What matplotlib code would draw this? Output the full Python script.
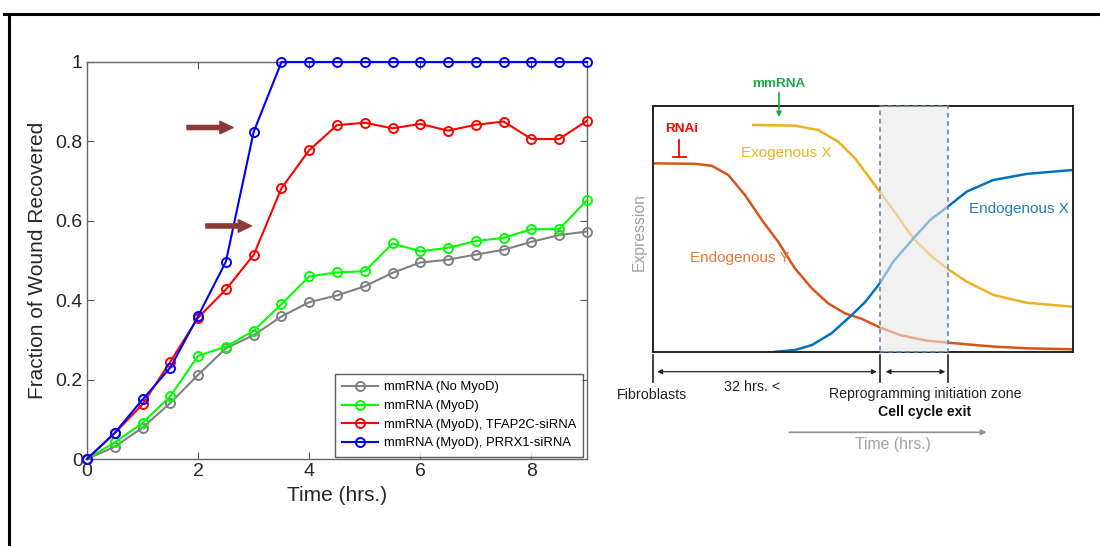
import matplotlib.pyplot as plt
from matplotlib.lines import Line2D
from matplotlib.patches import Rectangle

plt.rcParams['font.family'] = ['Liberation Sans', 'DejaVu Sans']

# ---- left panel: wound recovery ----
hours = [0, 0.5, 1, 1.5, 2, 2.5, 3, 3.5, 4, 4.5, 5, 5.5, 6, 6.5, 7, 7.5, 8, 8.5, 9]
no_myod = [0, 0.031, 0.079, 0.141, 0.212, 0.279, 0.312, 0.359, 0.395, 0.412, 0.435,
           0.469, 0.495, 0.502, 0.515, 0.527, 0.547, 0.564, 0.573]
myod = [0, 0.042, 0.091, 0.158, 0.260, 0.283, 0.323, 0.390, 0.460, 0.470, 0.473,
        0.543, 0.523, 0.532, 0.549, 0.557, 0.579, 0.579, 0.652]
tfap2c = [0, 0.065, 0.138, 0.245, 0.356, 0.427, 0.514, 0.682, 0.778, 0.841, 0.847,
          0.833, 0.844, 0.827, 0.842, 0.850, 0.806, 0.806, 0.852]
prrx1 = [0, 0.066, 0.150, 0.230, 0.360, 0.497, 0.824, 1, 1, 1, 1, 1, 1, 1, 1, 1, 1, 1, 1]
series_labels = ['mmRNA (No MyoD)', 'mmRNA (MyoD)', 'mmRNA (MyoD), TFAP2C-siRNA',
                 'mmRNA (MyoD), PRRX1-siRNA']
series_colors = ['#808080', '#00ff00', '#ff0000', '#0000ff']
# brown arrows: (x start, x end, y)
brown_arrows = [(1.80, 2.63, 0.835), (2.14, 2.96, 0.587)]

# ---- right panel: schematic (0-100 units) ----
endo_y_t = [0, 10.0, 14.0, 17.9, 21.9, 25.9, 29.8, 33.8, 37.8, 41.7, 45.7, 49.8, 54.0,
            58.8, 65.2, 70.2, 81.0, 89.0, 100]
endo_y_v = [76.7, 76.5, 75.7, 72.0, 63.8, 53.7, 44.8, 34.0, 25.9, 19.8, 15.7, 13.4, 10.0,
            6.9, 4.6, 3.8, 2.2, 1.5, 1.1]
exo_x_t = [23.6, 33.8, 39.4, 44.1, 48.1, 50.5, 54.0, 57.2, 62.0, 66.0, 70.2, 74.7, 81.0,
           89.0, 100]
exo_x_v = [92.3, 92.0, 90.2, 85.5, 78.7, 73.2, 65.2, 57.7, 46.2, 39.4, 33.7, 28.6, 23.2,
           20.0, 18.4]
endo_x_t = [28.6, 33.8, 37.8, 42.5, 47.3, 50.5, 54.0, 57.2, 62.0, 66.0, 70.2, 74.7, 81.0,
            89.0, 100]
endo_x_v = [0, 0.8, 2.8, 7.6, 15.0, 20.3, 27.9, 36.7, 46.2, 53.7, 59.1, 65.2, 69.9,
            72.4, 74.0]
zone = (54.0, 70.2)

fig = plt.figure(figsize=(11, 5.46), dpi=100)

# outer frame (top and left only)
fig.add_artist(Line2D([4 / 1100, 1], [1 - 14 / 546] * 2, color='black', lw=2.2))
fig.add_artist(Line2D([8.5 / 1100] * 2, [0, 1 - 14 / 546], color='black', lw=2.2))

ax = fig.add_axes([87 / 1100, 87 / 546, 500 / 1100, 397 / 546])
for vals, lab, col in zip([no_myod, myod, tfap2c, prrx1], series_labels, series_colors):
    ax.plot(hours, vals, color=col, lw=1.5, marker='o', ms=6.5, mfc='none', mew=1.4,
            label=lab, clip_on=False, zorder=3)
for x0, x1, y in brown_arrows:
    ax.annotate('', xy=(x1, y), xytext=(x0, y),
                arrowprops=dict(arrowstyle='simple,head_length=0.95,head_width=0.9,tail_width=0.3',
                                color='#8c3a35', shrinkA=0, shrinkB=0, mutation_scale=10))
ax.set_xlim(0, 9)
ax.set_ylim(0, 1)
ax.set_xticks([0, 2, 4, 6, 8])
ax.set_yticks([0, 0.2, 0.4, 0.6, 0.8, 1])
ax.set_yticklabels(['0', '0.2', '0.4', '0.6', '0.8', '1'])
ax.tick_params(direction='in', top=True, right=True, length=5, width=0.8,
               labelsize=14, colors='#555555', labelcolor='#262626', pad=3)
for s in ax.spines.values():
    s.set_color('#666666')
    s.set_linewidth(1.0)
ax.set_xlabel('Time (hrs.)', fontsize=15, color='#262626', labelpad=4)
ax.set_ylabel('Fraction of Wound Recovered', fontsize=15, color='#262626', labelpad=6)
leg = ax.legend(loc='lower right', bbox_to_anchor=(0.992, 0.006), fontsize=9.4,
                frameon=True, fancybox=False, handlelength=2.8, borderpad=0.55,
                labelspacing=0.5, handletextpad=0.4, borderaxespad=0)
leg.get_frame().set_edgecolor('#333333')
leg.get_frame().set_linewidth(1.0)

# ---- right panel ----
rx = fig.add_axes([653 / 1100, 194 / 546, 420 / 1100, 246 / 546])
rx.set_xlim(0, 100)
rx.set_ylim(0, 100)
rx.set_xticks([])
rx.set_yticks([])
for s in rx.spines.values():
    s.set_color('#222222')
    s.set_linewidth(1.4)
rx.plot(endo_y_t, endo_y_v, color='#d95319', lw=1.8, solid_capstyle='butt',
        solid_joinstyle='round', zorder=2)
rx.plot(exo_x_t, exo_x_v, color='#edb120', lw=1.8, solid_capstyle='butt',
        solid_joinstyle='round', zorder=2)
rx.plot(endo_x_t, endo_x_v, color='#0072bd', lw=1.8, solid_capstyle='butt',
        solid_joinstyle='round', zorder=2)
rx.add_patch(Rectangle((zone[0], 0), zone[1] - zone[0], 100, facecolor='#e8e8e8',
                       alpha=0.6, edgecolor='none', zorder=4, clip_on=False))
rx.add_patch(Rectangle((zone[0], 0), zone[1] - zone[0], 100, facecolor='none',
                       edgecolor='#5a7ca3', lw=1.1, ls=(0, (3, 2.5)), zorder=5,
                       clip_on=False))

rx.text(31.8, 80.8, 'Exogenous X', color='#edb120', fontsize=11, ha='center', va='center')
rx.text(8.8, 38.3, 'Endogenous Y', color='#e8772e', fontsize=11, ha='left', va='center')
rx.text(75.3, 58.0, 'Endogenous X', color='#1f7cc4', fontsize=11, ha='left', va='center')
rx.text(-3.3, 48.8, 'Expression', color='#a0a0a0', fontsize=11.3, rotation=90,
        ha='center', va='center', clip_on=False)
rx.text(30.0, 108.9, 'mmRNA', color='#1aaa4a', fontsize=9.7, fontweight='bold',
        ha='center', va='center', clip_on=False)
rx.annotate('', xy=(30.0, 95.5), xytext=(30.0, 105.5),
            arrowprops=dict(arrowstyle='-|>', color='#1aaa4a', lw=1.2, shrinkA=0, shrinkB=0,
                            mutation_scale=7), annotation_clip=False)
rx.text(6.8, 90.5, 'RNAi', color='#ff0000', fontsize=9.7, fontweight='bold',
        ha='center', va='center')
rx.plot([6.3, 6.3], [86.2, 79.1], color='#ff0000', lw=1.3)
rx.plot([4.8, 7.8], [79.1, 79.1], color='#ff0000', lw=1.3)


def below(py):
    # pixel row of the reference -> panel units (outside the box)
    return (352 - py) / 2.46


for tx in [0, zone[0], zone[1]]:
    rx.plot([tx, tx], [below(355), below(382)], color='#222222', lw=1.2, clip_on=False)
for x0, x1 in [(1.0, 53.3), (55.4, 69.6)]:
    rx.annotate('', xy=(x0, below(371.7)), xytext=(x1, below(371.7)),
                arrowprops=dict(arrowstyle='<|-|>', color='#222222', lw=0.9, shrinkA=0,
                                shrinkB=0, mutation_scale=7), annotation_clip=False)
rx.text((751.7 - 653) / 4.2, below(386.7), '32 hrs. <', fontsize=10.3, ha='center',
        va='center', color='#222222', clip_on=False)
rx.text((651.7 - 653) / 4.2, below(395), 'Fibroblasts', fontsize=10.3, ha='center',
        va='center', color='#222222', clip_on=False)
rx.text((925 - 653) / 4.2, below(394.3), 'Reprogramming initiation zone', fontsize=10.2,
        ha='center', va='center', color='#222222', clip_on=False)
rx.text((925 - 653) / 4.2, below(411.7), 'Cell cycle exit', fontsize=10.2, fontweight='bold',
        ha='center', va='center', color='#111111', clip_on=False)
rx.annotate('', xy=((986.7 - 653) / 4.2, below(432.3)), xytext=((789.3 - 653) / 4.2, below(432.3)),
            arrowprops=dict(arrowstyle='-|>', color='#909090', lw=1.2, shrinkA=0, shrinkB=0,
                            mutation_scale=8), annotation_clip=False)
rx.text((893.3 - 653) / 4.2, below(445), 'Time (hrs.)', fontsize=11.3, ha='center',
        va='center', color='#a0a0a0', clip_on=False)

fig.savefig('out.png', dpi=100)
